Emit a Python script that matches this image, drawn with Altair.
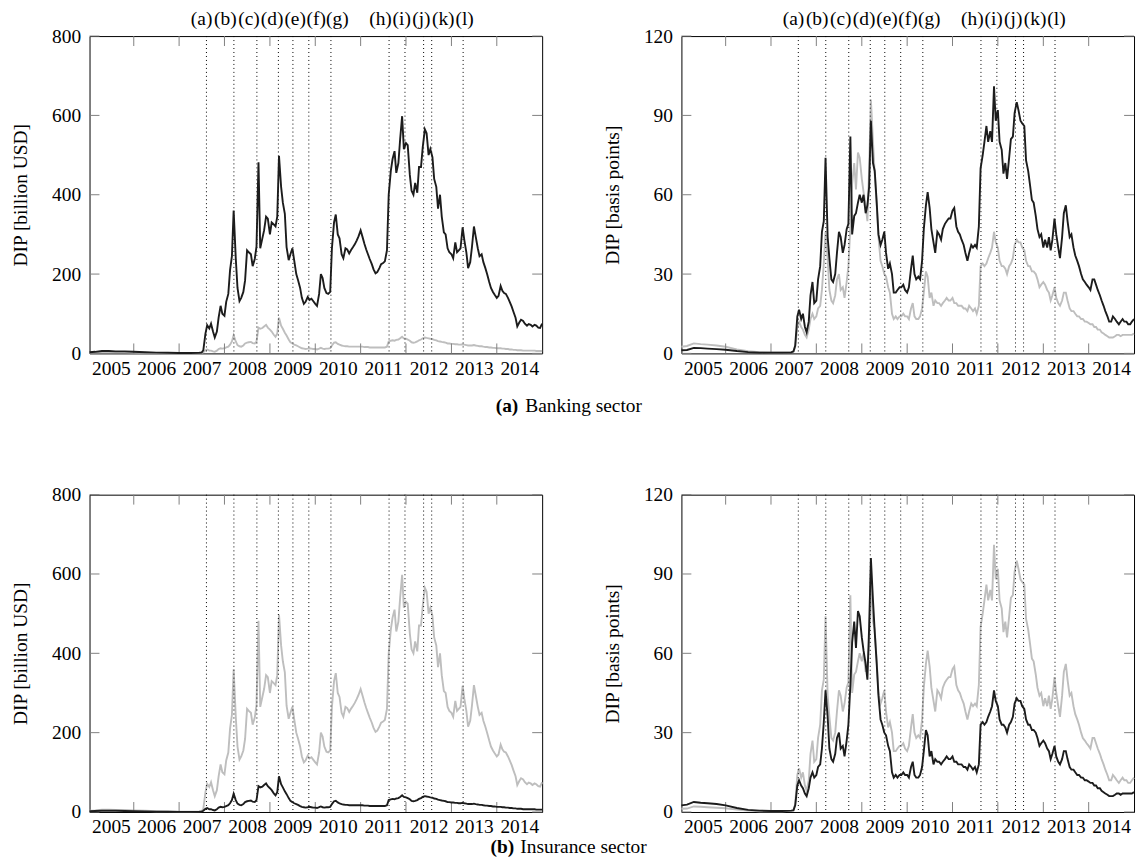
import altair as alt
import pandas as pd

# ---------------- data ----------------
PRE_DATES = ["2005-01-10", "2005-02-24", "2005-04-20", "2005-06-14", "2005-08-08",
             "2005-10-20", "2006-01-01", "2006-04-01", "2006-07-01", "2006-10-01",
             "2007-01-01", "2007-04-01", "2007-06-13"]
SM_DATES = [f"{y}-{m:02d}-{d:02d}" for y in range(2007, 2015) for m in range(1, 13)
            for d in (1, 15) if (y, m) >= (2007, 7)] + ["2015-01-01"]
DATES = PRE_DATES + SM_DATES

BANK_BPS = [1.2, 1.3, 2.1, 2.0, 1.8, 1.6, 1.4, 0.9, 0.5, 0.3, 0.3, 0.3, 0.4,
    0.8, 3, 14, 16.5, 13, 15, 10, 8, 12, 22, 27, 19,
    20, 28, 33, 46, 50, 74, 44, 36, 28, 27, 30, 38,
    46, 44, 38, 41, 47, 49, 82, 45, 52, 53, 57, 60,
    57, 60, 53, 56, 63, 88, 72, 69, 57, 45, 41, 43,
    46, 38, 32, 34, 30, 23, 23, 24, 25, 25, 26, 24,
    23, 25, 32, 37, 30, 28, 29, 28, 35, 47, 56, 61,
    55, 47, 42, 38, 46, 45, 43, 47, 49, 50, 51, 51,
    54, 55, 48, 46, 45, 43, 41, 38, 35, 38, 41, 40,
    41, 40, 48, 70, 75, 80, 86, 80, 84, 80, 101, 88,
    92, 80, 77, 68, 72, 66, 74, 81, 82, 91, 95, 92,
    88, 87, 86, 73, 69, 64, 58, 57, 52, 47, 44, 45,
    40, 43, 40, 44, 39, 43, 51, 45, 40, 36, 44, 53,
    56, 50, 44, 45, 40, 37, 35, 33, 30, 28, 27, 26,
    25, 24, 28, 28, 26, 24, 22, 20, 18, 16, 14, 12,
    12, 14, 13, 12, 11, 12, 13, 12, 12, 11, 11, 12,
    13]

INS_BPS = [2.5, 2.8, 3.8, 3.5, 3.3, 3.0, 2.5, 1.5, 0.8, 0.5, 0.4, 0.4, 0.5,
    0.6, 2.5, 10, 12, 10, 9, 7, 6, 9, 13, 15, 13,
    14, 17, 18, 24, 34, 46, 36, 24, 20, 19, 22, 28,
    30, 24, 25, 21, 27, 33, 48, 64, 72, 62, 76, 74,
    66, 61, 56, 50, 70, 96, 80, 68, 56, 44, 35, 33,
    30, 29, 25, 23, 15, 13, 14, 13, 14, 14, 15, 14,
    14, 13, 17, 19, 14, 13, 13, 14, 17, 23, 31, 29,
    21, 23, 18, 20, 19, 19, 18, 19, 20, 21, 20, 20,
    21, 19, 19, 18, 18, 18, 17, 17, 16, 18, 17, 16,
    17, 15, 18, 33, 34, 33, 34, 36, 38, 40, 46, 42,
    40, 35, 33, 33, 32, 30, 33, 34, 36, 41, 43, 42,
    42, 40, 39, 35, 33, 33, 31, 31, 30, 28, 25, 26,
    27, 26, 24, 23, 20, 22, 25, 21, 19, 18, 20, 23,
    23, 20, 17, 16, 16, 15, 14, 14, 13, 13, 12, 12,
    11.5, 11, 11, 10, 10, 9, 9, 8, 7.5, 7, 6.5, 6,
    6, 6, 6.5, 7, 7, 6.5, 7, 7, 7, 7, 7, 7,
    7.5]

BANK_USD = [3, 4, 6, 6, 5, 5, 4, 3, 2, 1.5, 1, 1, 1.5,
    2, 8, 50, 71, 63, 75, 55, 40, 55, 90, 120, 100,
    95, 130, 150, 210, 245, 360, 240, 165, 132, 140, 155, 184,
    260, 255, 250, 220, 238, 270, 482, 265, 290, 310, 345, 340,
    300, 330, 325, 320, 345, 498, 420, 380, 352, 268, 235, 250,
    265, 235, 200, 185, 165, 140, 125, 130, 142, 135, 138, 132,
    125, 120, 150, 200, 190, 165, 152, 150, 155, 265, 330, 350,
    300, 290, 250, 240, 265, 262, 252, 260, 268, 275, 285, 295,
    310, 295, 276, 262, 250, 238, 225, 212, 202, 205, 215, 225,
    228, 232, 260, 400, 460, 490, 510, 455, 480, 540, 598, 515,
    530, 525, 450, 410, 400, 430, 405, 470, 470, 520, 565, 555,
    500, 515, 495, 440, 420, 365, 400, 345, 305, 300, 265, 255,
    250, 240, 280, 255, 260, 265, 318, 285, 255, 215, 230, 268,
    320, 295, 265, 245, 250, 230, 215, 200, 180, 165, 155, 148,
    140, 145, 170, 158, 152, 150, 140, 130, 118, 105, 90, 68,
    78, 85, 82, 75, 70, 74, 72, 68, 72, 70, 65, 64,
    75]

INS_USD = [2, 2.5, 3, 3, 3, 2.5, 2, 1.5, 1, 0.5, 0.4, 0.4, 0.5,
    1, 3, 8, 10, 7, 7, 5, 4, 7, 11, 13, 12,
    13, 15, 17, 22, 30, 46, 30, 21, 18, 17, 20, 25,
    27, 28, 29, 26, 25, 30, 65, 62, 64, 68, 72, 65,
    60, 55, 47, 42, 50, 90, 70, 62, 52, 45, 35, 28,
    25, 22, 20, 18, 15, 13, 12, 11, 12, 13, 12, 11,
    11, 10, 12, 14, 12, 11, 12, 12, 13, 20, 27, 28,
    24, 22, 20, 19, 18, 18, 17, 17, 17, 17, 17, 17,
    17, 17, 16, 16, 16, 15, 15, 15, 15, 15, 15, 15,
    15, 15, 17, 30, 32, 33, 32, 34, 35, 38, 42, 38,
    37, 35, 32, 28, 27, 28, 30, 33, 35, 38, 40, 39,
    38, 37, 36, 34, 33, 31, 30, 29, 28, 27, 25, 25,
    24, 24, 23, 23, 22, 22, 23, 22, 21, 20, 20, 20,
    21, 20, 19, 18, 18, 17, 16, 16, 15, 15, 14, 14,
    13, 13, 13, 12, 12, 11, 11, 10, 10, 9, 9, 8,
    8, 8, 7, 7, 7, 7, 7, 7, 7, 6, 6, 6,
    6]

EVENT_DATES = ["2007-08-09", "2008-03-17", "2008-09-18", "2009-03-10", "2009-07-05",
               "2009-11-10", "2010-05-07", "2011-08-18", "2011-12-24", "2012-05-22",
               "2012-07-26", "2013-04-05"]
EVENT_LABELS = ["(a)", "(b)", "(c)", "(d)", "(e)", "(f)", "(g)",
                "(h)", "(i)", "(j)", "(k)", "(l)"]
EVENT_LABEL_POS = ["2007-07-01", "2008-01-08", "2008-07-16", "2009-01-19", "2009-07-23",
                   "2010-01-08", "2010-06-28", "2011-06-10", "2011-11-28", "2012-05-04",
                   "2012-10-27", "2013-04-17"]

YEAR_LABELS = list(range(2005, 2015))
YEAR_BOUNDS = [f"{y}-01-01" for y in range(2006, 2015)]
USD_TICKS = [0, 200, 400, 600, 800]
BPS_TICKS = [0, 30, 60, 90, 120]

for arr in (BANK_BPS, INS_BPS, BANK_USD, INS_USD):
    assert len(arr) == len(DATES), (len(arr), len(DATES))

df = pd.DataFrame({"date": DATES, "bank_usd": BANK_USD, "ins_usd": INS_USD,
                   "bank_bps": BANK_BPS, "ins_bps": INS_BPS})
events = pd.DataFrame({"date": EVENT_DATES, "label": EVENT_LABELS, "pos": EVENT_LABEL_POS})
xticks = pd.DataFrame({"date": YEAR_BOUNDS})

# ---------------- style ----------------
W, H = 455, 319
FONT = "Liberation Serif"
FS = 19.5
GRAY = "#bebebe"
BLACK = "#1c1c1c"
TICKC = "#808080"
LW = 1.9
TL = 10

X0 = alt.DateTime(year=2005, month=1, date=10, utc=True)
X1 = alt.DateTime(year=2015, month=1, date=1, utc=True)


def panel(gray_col, black_col, ymax, yvals, ytitle, labels, cap_text, cap_anchor,
          cap_dx, cap_bold, cap_offset):
    xs = alt.Scale(type="utc", domain=[X0, X1], nice=False)
    ys = alt.Scale(domain=[0, ymax], nice=False, zero=True)
    xaxis = alt.Axis(values=[alt.DateTime(year=y, month=7, date=1, utc=True) for y in YEAR_LABELS],
                     labelExpr="utcFormat(datum.value, '%Y')", ticks=False, tickSize=0,
                     domain=False, grid=False, labelPadding=6, labelFont=FONT,
                     labelFontSize=FS, labelColor="black", labelFlush=False,
                     labelOverlap=False, title=None)
    yaxis = alt.Axis(values=yvals, ticks=False, tickSize=0, domain=False, grid=False,
                     labelPadding=9, labelFont=FONT, labelFontSize=FS, labelColor="black",
                     title=ytitle, titleFont=FONT, titleFontSize=FS, titleFontWeight="normal",
                     titleColor="black", titlePadding=21)
    ytdf = pd.DataFrame({"v": yvals})

    def X(field):
        return alt.X(field, scale=xs, axis=xaxis)

    def Y(field):
        return alt.Y(field, scale=ys, axis=yaxis)

    gray = alt.Chart(df).mark_line(color=GRAY, strokeWidth=LW).encode(
        x=X("date:T"), y=Y(f"{gray_col}:Q"))
    ev = alt.Chart(events).mark_rule(color="black", strokeDash=[1, 3], strokeWidth=1).encode(
        x=X("date:T"))
    xt_top = alt.Chart(xticks).mark_rule(color=TICKC, strokeWidth=1).encode(
        x=X("date:T"), y=alt.value(0), y2=alt.value(TL))
    xt_bot = alt.Chart(xticks).mark_rule(color=TICKC, strokeWidth=1).encode(
        x=X("date:T"), y=alt.value(H), y2=alt.value(H - TL))
    yt_l = alt.Chart(ytdf).mark_rule(color=TICKC, strokeWidth=1).encode(
        y=Y("v:Q"), x=alt.value(0), x2=alt.value(TL))
    yt_r = alt.Chart(ytdf).mark_rule(color=TICKC, strokeWidth=1).encode(
        y=Y("v:Q"), x=alt.value(W), x2=alt.value(W - TL))
    black = alt.Chart(df).mark_line(color=BLACK, strokeWidth=LW).encode(
        x=X("date:T"), y=Y(f"{black_col}:Q"))
    layers = [gray, ev, xt_top, xt_bot, yt_l, yt_r, black]
    if labels:
        txt = alt.Chart(events).mark_text(font=FONT, fontSize=FS, baseline="middle",
                                          align="center", color="black").encode(
            x=X("pos:T"), y=alt.value(-17.5), text="label:N")
        layers.append(txt)
    return alt.layer(*layers).properties(
        width=W, height=H,
        title=alt.TitleParams(text=cap_text, orient="bottom", anchor=cap_anchor, frame="group",
                              dx=cap_dx, offset=cap_offset, font=FONT, fontSize=FS,
                              fontWeight="bold" if cap_bold else "normal", color="black"))


p1 = panel("ins_usd", "bank_usd", 800, USD_TICKS, "DIP [billion USD]", True,
           "(a)", "end", -24, True, 19)
p2 = panel("ins_bps", "bank_bps", 120, BPS_TICKS, "DIP [basis points]", True,
           "Banking sector", "start", -157, False, 19)
p3 = panel("bank_usd", "ins_usd", 800, USD_TICKS, "DIP [billion USD]", False,
           "(b)", "end", -28, True, 2)
p4 = panel("bank_bps", "ins_bps", 120, BPS_TICKS, "DIP [basis points]", False,
           "Insurance sector", "start", -162, False, 2)

chart = alt.concat(p1, p2, p3, p4, columns=2, bounds="flush",
                   spacing={"row": 142, "column": 140}).properties(
    padding={"left": 10, "top": 6, "right": 0, "bottom": 0},
    background="white",
).configure_view(stroke="black", strokeWidth=1)

chart.save("out.html", embed_options={"renderer": "svg", "actions": False})
